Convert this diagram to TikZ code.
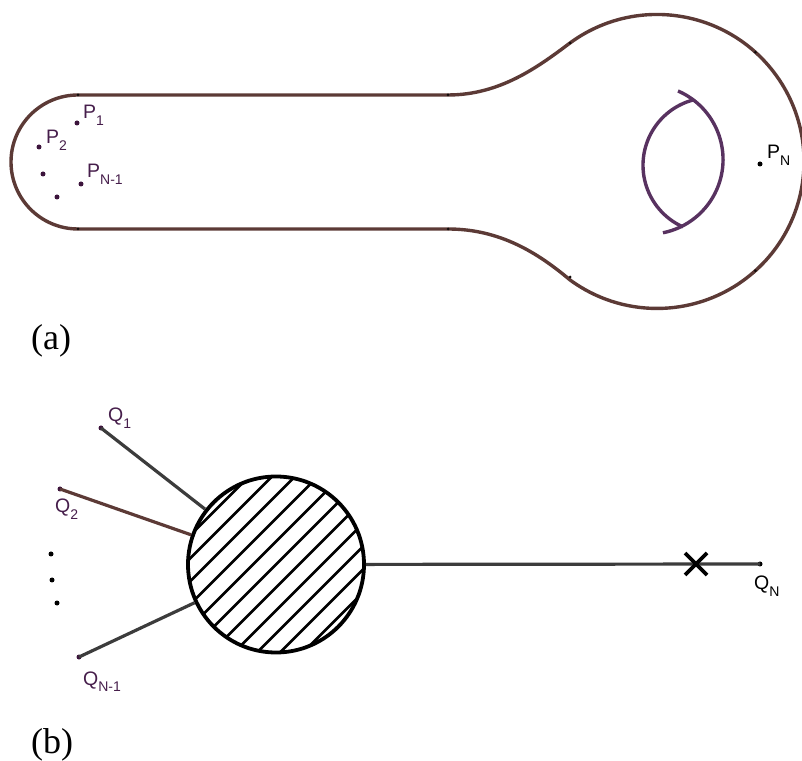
\documentclass[tikz,border=0pt]{standalone}
\usepackage{fontspec}
\setmainfont{Liberation Serif}
\newfontfamily\labfont{Liberation Sans}
\usetikzlibrary{positioning, calc}
\definecolor{outlinebrown}{RGB}{92,58,54}
\definecolor{lenspurple}{RGB}{88,50,96}
\definecolor{dotpurple}{RGB}{60,20,60}
\definecolor{labpurple}{RGB}{70,30,75}
\definecolor{linkgray}{RGB}{60,60,60}
\tikzstyle{outline} = [line width=3.4pt, draw=outlinebrown]
\tikzstyle{lens} = [line width=3.4pt, draw=lenspurple]
\tikzstyle{dot} = [circle, fill=dotpurple, inner sep=0pt, minimum size=5pt]
\tikzstyle{knot} = [circle, fill=black!80!outlinebrown, inner sep=0pt, minimum size=3pt]
\tikzstyle{lab} = [anchor=base west, inner sep=0pt, text=labpurple, font=\labfont\fontsize{19.5}{19.5}\selectfont]
\tikzstyle{link} = [line width=3.2pt, draw=linkgray]
\tikzstyle{blob} = [circle, draw=black, line width=3.8pt, fill=white, inner sep=0pt, minimum size=176pt]
\tikzstyle{hatch} = [line width=2.6pt, black]
\tikzstyle{caption} = [anchor=base west, inner sep=0pt, font=\fontsize{36}{36}\selectfont]
\newcommand{\ptlab}[2]{#1\raisebox{-6.5pt}{\fontsize{14}{14}\selectfont #2}}

\begin{document}
\begin{tikzpicture}[x=1pt, y=1pt]
\useasboundingbox (0,0) rectangle (802,760);

% (a) surface with a handle
\draw[outline] (448,531) -- (78,531) arc (270:90:67) -- (448,665)
  .. controls (500,665) and (538,693) .. (570,717)
  arc (126.3:-126.3:147)
  .. controls (538,507) and (500,531) .. (448,531);
\foreach \p in {(78,665),(78,531),(448,665),(448,531),(570,717),(570,483)}
  \node[knot] at \p {};
\node[knot] at ($(657,598.5)+(48:147)$) {};
\node[knot] at ($(657,598.5)+(-48:147)$) {};
\draw[lens] (693,660) arc (105.1:245.9:67.6);
\draw[lens] (678,669) arc (66.6:-78.7:74.7);

\node[dot] (p1) at (77,637) {};
\node[dot] (p2) at (39,613) {};
\node[dot] (pa) at (43,586) {};
\node[dot] (pb) at (57,563) {};
\node[dot] (pn1) at (81,576) {};
\node[dot, fill=black] (pn) at (760,596) {};
\node[lab] (p1lab) at (83,641) {\ptlab{P}{1}};
\node[lab] (p2lab) at (46,616) {\ptlab{P}{2}};
\node[lab] (pn1lab) at (87,582) {\ptlab{P}{N-1}};
\node[lab, text=black] (pnlab) at (767,601) {\ptlab{P}{N}};
\node[caption] (capa) at (31,410) {(a)};

% (b) blob with external legs
\node[blob] (blob) at (276,195.5) {};
\begin{scope}
  \clip (blob.center) circle (87);
  \foreach \k in {-6,...,6}
    \draw[hatch] ($(blob.center)+(\k*11.5,-\k*11.5)+(-100,-100)$) -- ++(200,200);
\end{scope}

\node[dot] (q1) at (101,332) {};
\node[dot] (q2) at (60,271) {};
\node[dot, fill=black] (qa) at (51,206) {};
\node[dot, fill=black] (qb) at (52,180) {};
\node[dot, fill=black] (qc) at (57,157) {};
\node[dot] (qn1) at (79,103) {};
\node[dot, fill=black] (qn) at (760,196) {};
\node[lab] (q1lab) at (108,338) {\ptlab{Q}{1}};
\node[lab] (q2lab) at (55,247) {\ptlab{Q}{2}};
\node[lab] (qn1lab) at (83,75) {\ptlab{Q}{N-1}};
\node[lab, text=black] (qnlab) at (754,170) {\ptlab{Q}{N}};

\draw[link] (q1.center) -- (blob);
\draw[link, draw=outlinebrown] (q2.center) -- (blob);
\draw[link] (qn1.center) -- (blob);
\draw[link] (blob) -- (qn.center);

\coordinate (cut) at (696,196);
\draw[line width=3.6pt] ($(cut)+(-11,-11)$) -- ($(cut)+(11,11)$);
\draw[line width=3.6pt] ($(cut)+(-11,11)$) -- ($(cut)+(11,-11)$);

\node[caption] (capb) at (31,7) {(b)};
\end{tikzpicture}
\end{document}
